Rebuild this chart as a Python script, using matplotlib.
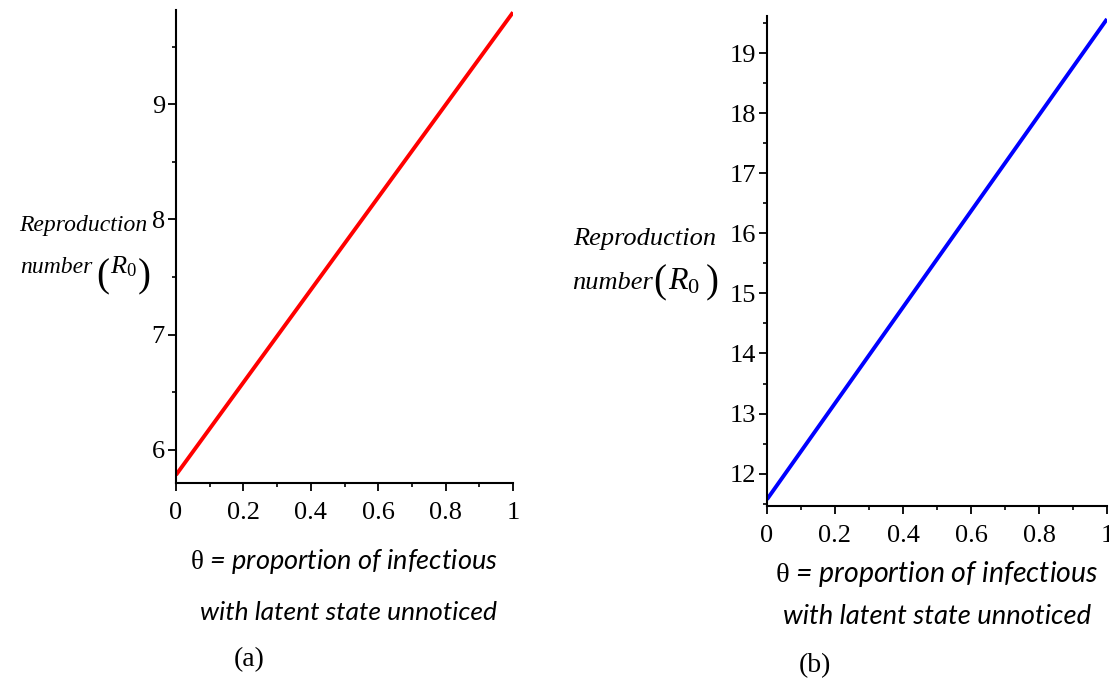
import matplotlib
matplotlib.use("Agg")
import matplotlib.pyplot as plt
from matplotlib.ticker import MultipleLocator

# values (R0 grows linearly with theta)
theta = [0.0, 1.0]
r0_a = [5.78, 9.80]
r0_b = [11.57, 19.57]

xticks = [0, 0.2, 0.4, 0.6, 0.8, 1]
xtick_labels = ["0", "0.2", "0.4", "0.6", "0.8", "1"]
yticks_a = [6, 7, 8, 9]
yticks_b = [12, 13, 14, 15, 16, 17, 18, 19]

plt.rcParams["mathtext.fontset"] = "custom"
plt.rcParams["mathtext.it"] = "Liberation Serif:italic"
plt.rcParams["mathtext.rm"] = "Liberation Serif"

W, H = 1109, 685
fig = plt.figure(figsize=(W / 100, H / 100), dpi=100)


def box(x0, y0, x1, y1):
    # pixel box (top-left origin) -> figure fraction
    return [x0 / W, 1 - y1 / H, (x1 - x0) / W, (y1 - y0) / H]


def px(x, y):
    return x / W, 1 - y / H


def style_axes(ax, yticks, ylim):
    ax.set_xlim(0, 1)
    ax.set_ylim(*ylim)
    for s in ["top", "right"]:
        ax.spines[s].set_visible(False)
    for s in ["left", "bottom"]:
        ax.spines[s].set_linewidth(1.5)
    ax.set_xticks(xticks)
    ax.set_xticklabels(xtick_labels)
    ax.set_yticks(yticks)
    ax.xaxis.set_minor_locator(MultipleLocator(0.1))
    ax.yaxis.set_minor_locator(MultipleLocator(0.5))
    ax.tick_params(which="major", direction="out", length=6, width=1.3,
                   labelsize=19, pad=2)
    ax.tick_params(which="minor", direction="out", length=3, width=1.2)
    ax.tick_params(axis="x", which="major", pad=8)
    for lab in ax.get_xticklabels() + ax.get_yticklabels():
        lab.set_family("Liberation Serif")


ax1 = fig.add_axes(box(176, 10, 513, 483))
ax1.plot(theta, r0_a, color="#ff0000", lw=2.8, solid_capstyle="butt")
style_axes(ax1, yticks_a, (5.71, 9.82))

ax2 = fig.add_axes(box(767, 16, 1107, 506))
ax2.plot(theta, r0_b, color="#0000ff", lw=2.8, solid_capstyle="butt")
style_axes(ax2, yticks_b, (11.46, 19.62))


def r0_label(x_rep, y_rep, x_num, y_base, x_lp, x_r, x_rp, y_par,
             size, rsize, psize):
    it = dict(family="Liberation Serif", style="italic", fontsize=size)
    fig.text(*px(x_rep, y_rep), "Reproduction", ha="right", va="center", **it)
    fig.text(*px(x_num, y_base), "number", ha="right", va="baseline", **it)
    par = dict(family="Liberation Serif", fontsize=psize, ha="center",
               va="center")
    fig.text(*px(x_lp, y_par), "(", **par)
    fig.text(*px(x_rp, y_par), ")", **par)
    fig.text(*px(x_r, y_base), r"$R_0$", ha="left", va="baseline",
             fontsize=rsize)


r0_label(147, 226, 93, 273, 103, 110, 144, 277, 17, 19, 28)
r0_label(716, 239, 653, 289, 660, 668, 712, 283, 19, 23, 28)

xlab = dict(family="Lato", style="italic", ha="center", va="center")
cap = dict(family="Liberation Serif", fontsize=20, ha="center", va="center")
fig.text(*px(344, 562), r"$\mathrm{\theta}$ = proportion of infectious",
         fontsize=19.5, **xlab)
fig.text(*px(348, 612), "with latent state unnoticed", fontsize=19, **xlab)
fig.text(*px(249, 660), "(a)", **cap)
fig.text(*px(937, 574), r"$\mathrm{\theta}$ = proportion of infectious",
         fontsize=20.5, **xlab)
fig.text(*px(937, 617), "with latent state unnoticed", fontsize=19.7, **xlab)
fig.text(*px(815, 666), "(b)", **cap)

fig.savefig("out.png", dpi=100)
